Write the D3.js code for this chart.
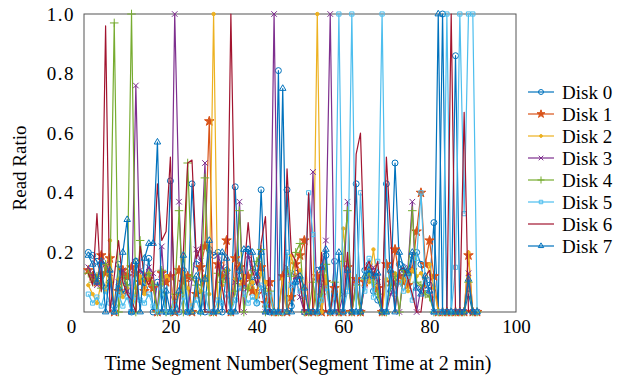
<!DOCTYPE html>
<html>
<head>
<meta charset="utf-8">
<script src="https://cdn.jsdelivr.net/npm/d3@7"></script>
<style>
  body { margin: 0; background: #fff; }
  svg text { font-family: "Liberation Serif", "Times New Roman", serif !important; fill: #000; }
</style>
</head>
<body>
<svg width="628" height="378"></svg>
<script>
// time segment numbers
const segments = d3.range(1, 92);

const disk0 = [0.20,0.19,0.17,0.12,0.08,0.10,0.02,0.16,0.06,0.10,
  0.00,0.17,0.13,0.08,0.18,0.00,0.10,0.06,0.00,0.44,
  0.05,0.00,0.14,0.00,0.43,0.16,0.10,0.00,0.21,0.19,
  0.20,0.00,0.14,0.00,0.42,0.12,0.08,0.21,0.10,0.03,
  0.41,0.07,0.00,0.00,0.81,0.00,0.41,0.02,0.13,0.11,
  0.00,0.00,0.00,0.14,0.00,0.19,0.00,0.17,0.00,0.00,
  0.14,0.00,0.43,0.00,0.14,0.16,0.07,0.04,0.00,0.43,
  0.07,0.50,0.16,0.13,0.09,0.19,0.20,0.16,0.08,0.09,
  0.30,0.00,1.00,0.00,0.00,0.86,0.00,0.00,0.06,0.00,0.00];

const disk1 = [0.14,0.12,0.10,0.19,0.13,0.18,0.00,0.07,0.14,0.12,
  0.15,0.13,0.10,0.07,0.11,0.08,0.00,0.13,0.10,0.12,
  0.00,0.14,0.10,0.12,0.00,0.06,0.15,0.22,0.64,0.00,
  0.16,0.12,0.24,0.00,0.18,0.15,0.10,0.12,0.07,0.06,
  0.15,0.03,0.10,0.00,0.00,0.12,0.00,0.05,0.16,0.19,
  0.24,0.00,0.00,0.12,0.00,0.10,0.00,0.08,0.00,0.00,
  0.15,0.00,0.11,0.00,0.10,0.14,0.12,0.08,0.00,0.16,
  0.10,0.21,0.12,0.10,0.09,0.14,0.27,0.40,0.16,0.24,
  0.12,0.00,0.00,0.00,0.00,0.00,0.00,0.00,0.19,0.00,0.00];

const disk2 = [0.09,0.06,0.03,0.10,0.07,0.24,0.00,0.11,0.05,0.08,
  0.00,0.08,0.12,0.06,0.13,0.10,0.00,0.09,0.12,0.11,
  0.00,0.06,0.13,0.08,0.00,0.10,0.07,0.12,0.06,1.00,
  0.00,0.09,0.14,0.00,0.11,0.09,0.12,0.08,0.10,0.05,
  0.13,0.10,0.04,0.00,0.00,0.11,0.00,0.19,0.12,0.14,
  0.08,0.00,0.00,1.00,0.00,0.12,0.00,0.10,0.00,0.28,
  0.12,0.00,0.08,0.00,0.12,0.10,0.21,0.09,0.00,0.11,
  0.12,0.13,0.10,0.11,0.07,0.14,0.12,0.13,0.09,0.16,
  0.08,0.00,0.00,0.00,0.00,0.00,0.00,0.00,0.20,0.00,0.00];

const disk3 = [0.15,0.12,0.09,0.17,0.16,0.13,0.00,0.10,0.14,0.07,
  0.00,0.76,0.14,0.12,0.15,0.13,0.00,0.22,0.00,0.00,
  1.00,0.37,0.00,0.00,0.11,0.21,0.17,0.50,0.00,0.00,
  0.19,0.15,0.12,0.00,0.10,0.37,0.00,0.19,0.15,0.12,
  0.08,0.00,0.00,1.00,0.00,0.00,0.15,0.09,0.12,0.05,
  0.00,0.00,0.47,0.00,0.09,0.24,1.00,0.00,0.00,0.06,
  0.37,0.00,0.10,0.00,0.09,0.12,0.15,0.10,0.00,0.00,
  0.06,0.10,0.00,0.13,0.15,0.37,0.00,0.08,0.10,0.06,
  0.00,0.00,0.00,0.00,0.00,0.00,0.00,0.00,0.13,0.00,0.00];

const disk4 = [0.13,0.10,0.12,0.08,0.16,0.10,0.97,0.00,0.12,0.09,
  1.00,0.00,0.24,0.11,0.13,0.09,0.00,0.14,0.00,0.00,
  0.06,0.34,0.00,0.50,0.12,0.09,0.00,0.45,0.00,0.00,
  0.13,0.10,0.14,0.00,0.07,0.34,0.00,0.08,0.14,0.17,
  0.21,0.00,0.07,0.00,0.00,0.00,0.14,0.12,0.20,0.23,
  0.00,0.00,0.10,0.00,0.06,0.16,0.00,0.10,0.00,0.17,
  0.34,0.00,0.09,0.00,0.11,0.13,0.10,0.06,0.00,0.00,
  0.09,0.12,0.00,0.14,0.13,0.34,0.10,0.09,0.06,0.05,
  0.00,0.00,0.00,0.00,0.00,0.00,0.00,0.00,0.10,0.00,0.00];

const disk5 = [0.06,0.03,0.05,0.02,0.07,0.03,0.00,0.06,0.02,0.05,
  0.00,0.05,0.04,0.03,0.06,0.02,0.00,0.08,0.00,0.00,
  0.03,0.00,0.05,0.00,0.02,0.04,0.00,0.06,0.00,0.00,
  0.04,0.03,0.06,0.00,0.04,0.08,0.06,0.03,0.05,0.03,
  0.09,0.02,0.06,0.00,0.00,0.00,0.20,0.09,0.10,0.07,
  0.05,0.40,0.26,0.00,0.04,0.08,0.00,0.05,1.00,0.00,
  0.07,1.00,0.00,0.40,0.07,0.18,0.05,0.17,1.00,0.00,
  0.12,0.06,0.10,0.07,0.12,0.04,0.18,0.40,0.10,0.07,
  0.00,0.00,0.00,1.00,0.00,0.15,1.00,0.33,1.00,1.00,0.00];

const disk6 = [0.13,0.09,0.33,0.07,0.96,0.00,0.12,0.24,0.10,0.06,
  0.04,0.00,0.22,0.12,0.09,0.13,0.43,0.24,0.27,0.52,
  0.00,0.00,0.20,0.50,0.51,0.18,0.22,0.00,0.00,0.00,
  0.17,0.08,0.00,1.00,0.20,0.00,0.13,0.30,0.14,0.09,
  0.23,0.32,0.00,0.00,0.00,0.00,0.48,0.20,0.17,0.10,
  0.00,0.40,0.00,0.00,0.20,0.00,0.00,0.10,0.00,0.00,
  0.20,0.00,0.53,0.60,0.14,0.17,0.12,0.17,0.00,0.52,
  0.26,0.00,0.14,0.15,0.11,0.06,0.00,0.00,0.12,0.14,
  0.00,0.00,0.00,0.00,1.00,0.00,0.00,0.67,0.00,0.00,0.00];

const disk7 = [0.19,0.16,0.10,0.17,0.00,0.14,0.00,0.08,0.20,0.31,
  0.00,0.17,0.00,0.18,0.23,0.23,0.57,0.00,0.07,0.00,
  0.00,0.07,0.19,0.00,0.00,0.12,0.00,0.11,0.24,0.00,
  0.00,0.20,0.18,0.00,0.00,0.14,0.21,0.21,0.20,0.12,
  0.20,0.00,0.00,0.00,0.00,0.75,0.00,0.00,0.10,0.12,
  0.08,0.00,0.00,0.00,0.15,0.21,0.00,0.00,0.20,0.00,
  0.14,0.00,0.00,0.00,0.12,0.14,0.12,0.13,0.00,0.00,
  0.14,0.00,0.20,0.15,0.13,0.20,0.08,0.06,0.12,0.07,
  0.00,1.00,0.00,0.00,0.00,0.00,0.00,0.00,0.11,0.00,0.00];

const diskNames = ['Disk 0','Disk 1','Disk 2','Disk 3','Disk 4','Disk 5','Disk 6','Disk 7'];
const xTicks = [0, 20, 40, 60, 80, 100];
const yTicks = [0.2, 0.4, 0.6, 0.8, 1.0];

const serif = '"Liberation Serif", "Times New Roman", serif';

const series = [
  { values: disk0, color: '#0072BD', symbol: d3.symbolCircle, size: 28, fill: false },
  { values: disk1, color: '#D95319', symbol: d3.symbolStar, size: 28, fill: true },
  { values: disk2, color: '#EDB120', symbol: d3.symbolCircle, size: 9, fill: true },
  { values: disk3, color: '#7E2F8E', symbol: d3.symbolTimes, size: 22, fill: false },
  { values: disk4, color: '#77AC30', symbol: d3.symbolPlus, size: 26, fill: false },
  { values: disk5, color: '#4DBEEE', symbol: d3.symbolSquare2, size: 22, fill: false },
  { values: disk6, color: '#A2142F', symbol: null, size: 0, fill: false },
  { values: disk7, color: '#0072BD', symbol: d3.symbolTriangle2, size: 30, fill: false }
];

const plotLeft = 84, plotRight = 516, plotTop = 14, plotBottom = 312;

const svg = d3.select('svg').attr('font-family', serif);

const x = d3.scaleLinear().domain([0, 100]).range([plotLeft, plotRight]);
const y = d3.scaleLinear().domain([0, 1]).range([plotBottom, plotTop]);

// plot box
svg.append('rect')
  .attr('x', plotLeft).attr('y', plotTop)
  .attr('width', plotRight - plotLeft).attr('height', plotBottom - plotTop)
  .attr('fill', 'none')
  .attr('stroke', '#555')
  .attr('stroke-width', 1);

const xAxis = svg.append('g')
  .attr('transform', `translate(0,${plotBottom})`)
  .call(d3.axisBottom(x).tickValues(xTicks).tickSize(0).tickPadding(8).tickFormat(d3.format('d')))
  .attr('font-family', serif)
  .attr('font-size', 19);
xAxis.select('.domain').remove();
xAxis.selectAll('text')
  .attr('dx', d => d === 0 ? -13 : 0);

const yAxis = svg.append('g')
  .attr('transform', `translate(${plotLeft},0)`)
  .call(d3.axisLeft(y).tickValues(yTicks).tickSize(0).tickPadding(9).tickFormat(d3.format('.1f')))
  .attr('font-family', serif)
  .attr('font-size', 19);
yAxis.select('.domain').remove();
yAxis.selectAll('text')
  .style('letter-spacing', '1.5px');

const line = d3.line()
  .x((d, i) => x(segments[i]))
  .y(d => y(d));

series.forEach(s => {
  const g = svg.append('g');
  g.append('path')
    .datum(s.values)
    .attr('d', line)
    .attr('fill', 'none')
    .attr('stroke', s.color)
    .attr('stroke-width', 1.2)
    .attr('stroke-linejoin', 'round');
  if (s.symbol) {
    g.selectAll('path.m')
      .data(s.values)
      .enter()
      .append('path')
      .attr('class', 'm')
      .attr('d', d3.symbol(s.symbol, s.size))
      .attr('transform', (d, i) => `translate(${x(segments[i])},${y(d)})`)
      .attr('fill', s.fill ? s.color : 'none')
      .attr('stroke', s.color)
      .attr('stroke-width', 1);
  }
});

// legend
const legend = svg.append('g');
series.forEach((s, k) => {
  const ly = 92 + k * 22;
  legend.append('line')
    .attr('x1', 528).attr('x2', 554)
    .attr('y1', ly).attr('y2', ly)
    .attr('stroke', s.color)
    .attr('stroke-width', 1.2);
  if (s.symbol) {
    legend.append('path')
      .attr('d', d3.symbol(s.symbol, s.size * 0.7))
      .attr('transform', `translate(541,${ly})`)
      .attr('fill', s.fill ? s.color : 'none')
      .attr('stroke', s.color)
      .attr('stroke-width', 1);
  }
  legend.append('text')
    .attr('x', 562).attr('y', ly)
    .attr('dy', '0.35em')
    .attr('font-size', 19)
    .text(diskNames[k]);
});

// axis titles
svg.append('text')
  .attr('x', (plotLeft + plotRight) / 2 - 2)
  .attr('y', 370)
  .attr('text-anchor', 'middle')
  .attr('font-size', 20)
  .text('Time Segment Number(Segment Time at 2 min)');

svg.append('text')
  .attr('transform', `translate(26,168) rotate(-90)`)
  .attr('text-anchor', 'middle')
  .attr('font-size', 19)
  .text('Read Ratio');
</script>
</body>
</html>
